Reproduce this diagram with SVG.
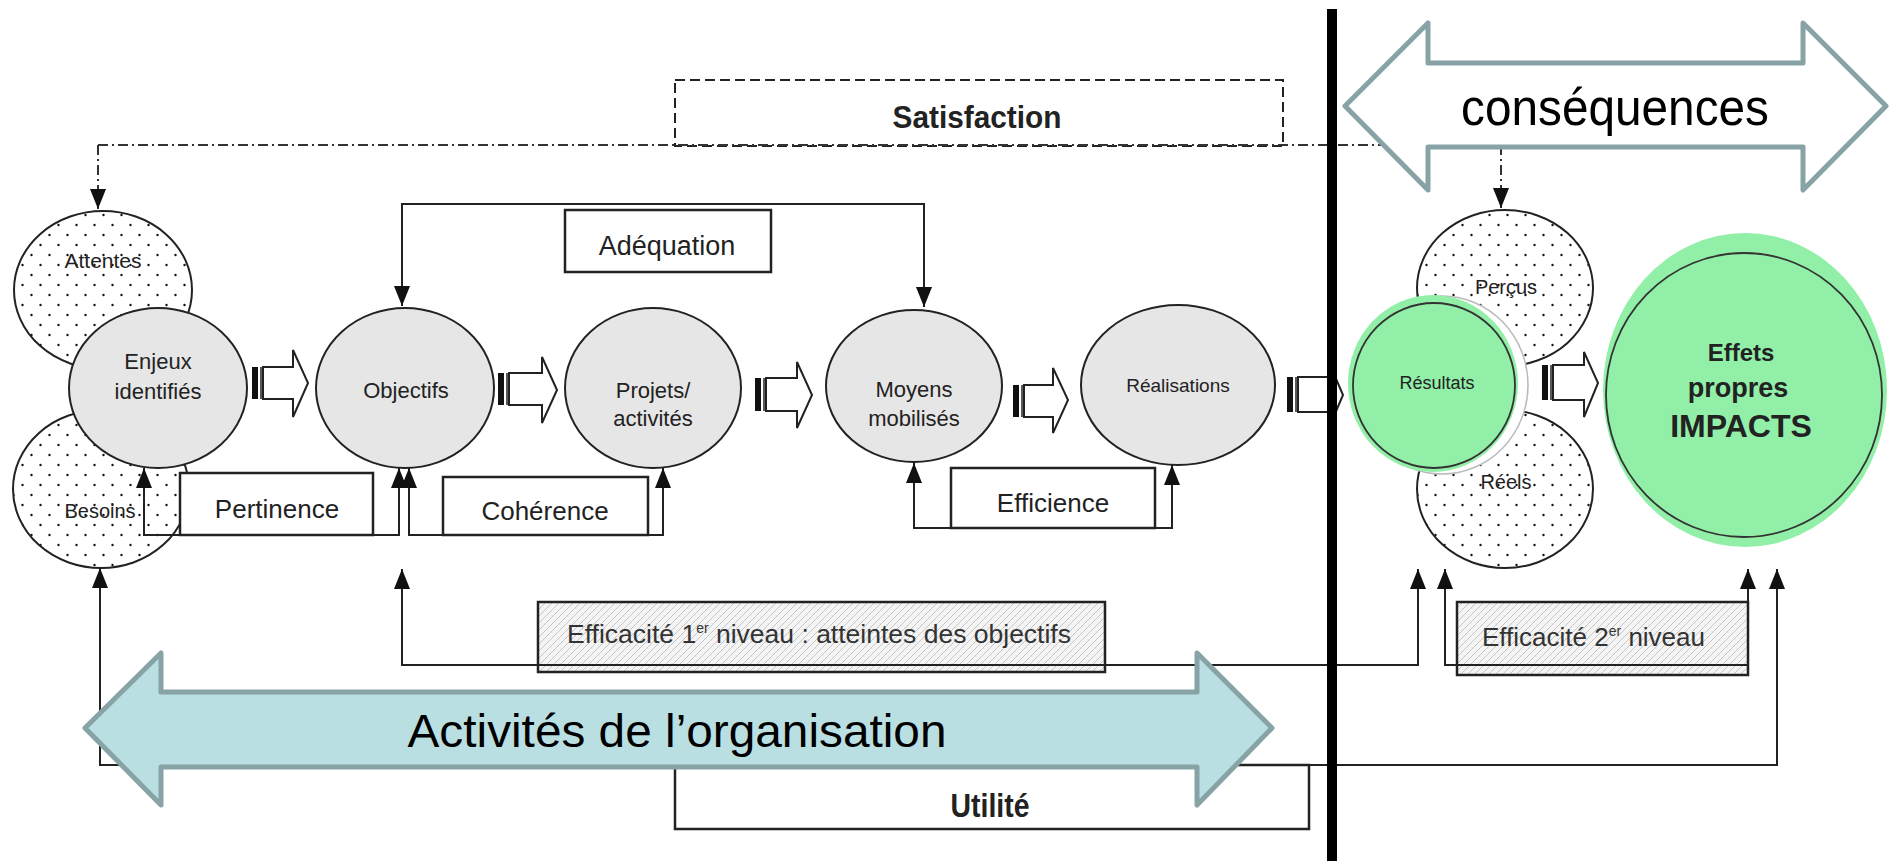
<svg xmlns="http://www.w3.org/2000/svg" width="1889" height="861" viewBox="0 0 1889 861">
<defs>
<style>
.t{font-family:"Liberation Sans",Arial,sans-serif;fill:#222;text-anchor:middle}
.tl{font-family:"Liberation Sans",Arial,sans-serif;fill:#333}
.b{font-weight:bold}
.node{fill:#e6e6e6;stroke:#222;stroke-width:2}
.dot{fill:url(#dots);stroke:#222;stroke-width:2}
.green{fill:#91efa7}
.ring{fill:none;stroke:#333;stroke-width:1.8}
.box{fill:#fff;stroke:#222;stroke-width:2.5}
.hbox{fill:url(#hatch);stroke:#222;stroke-width:2.5}
.conn{fill:none;stroke:#222;stroke-width:2;marker-end:url(#ah);marker-start:url(#ah)}
.dd{fill:none;stroke:#333;stroke-width:2;stroke-dasharray:10 4 2 4}
.dda{marker-end:url(#ah)}
.ba{fill:#fff;stroke:#222;stroke-width:2}
.tail{fill:#111}
.big{stroke:#87a3a6;stroke-width:5;stroke-linejoin:round}
</style>
<pattern id="dots" patternUnits="userSpaceOnUse" width="18" height="20">
<rect width="18" height="20" fill="#fff"/>
<circle cx="4.5" cy="5" r="1.2" fill="#111"/>
<circle cx="13.5" cy="15" r="1.2" fill="#111"/>
</pattern>
<pattern id="hatch" patternUnits="userSpaceOnUse" width="7" height="7">
<rect width="7" height="7" fill="#f4f4f4"/>
<path d="M0,7 L7,0 M-1,1 L1,-1 M6,8 L8,6" stroke="#c6c6c6" stroke-width="1"/>
</pattern>
<marker id="ah" viewBox="0 0 20 16" refX="20" refY="8" markerWidth="20" markerHeight="16" markerUnits="userSpaceOnUse" orient="auto-start-reverse">
<path d="M0,0 L20,8 L0,16 Z" fill="#111"/>
</marker>
</defs>
<rect width="1889" height="861" fill="#fff"/>

<g id="satisfaction">
<rect x="675" y="80" width="608" height="66" fill="none" stroke="#222" stroke-width="2" stroke-dasharray="10 5"/>
<text class="t b" x="977" y="128" font-size="32" textLength="169" lengthAdjust="spacingAndGlyphs">Satisfaction</text>
</g>

<g id="attentes">
<ellipse class="dot" cx="103" cy="290" rx="89" ry="79"/>
<text class="t" x="103" y="268" font-size="21">Attentes</text>
</g>
<g id="besoins">
<ellipse class="dot" cx="101" cy="489" rx="88" ry="79"/>
<text class="t" x="100" y="518" font-size="20">Besoins</text>
</g>
<g id="enjeux">
<ellipse class="node" cx="158" cy="388" rx="89" ry="80"/>
<text class="t" x="158" y="369" font-size="22">Enjeux</text>
<text class="t" x="158" y="399" font-size="22">identifiés</text>
</g>
<g id="objectifs">
<ellipse class="node" cx="405" cy="388" rx="89" ry="80"/>
<text class="t" x="406" y="398" font-size="22">Objectifs</text>
</g>
<g id="projets">
<ellipse class="node" cx="653" cy="388" rx="88" ry="80"/>
<text class="t" x="653" y="398" font-size="22">Projets/</text>
<text class="t" x="653" y="426" font-size="22">activités</text>
</g>
<g id="moyens">
<ellipse class="node" cx="914" cy="386" rx="88" ry="76"/>
<text class="t" x="914" y="397" font-size="22">Moyens</text>
<text class="t" x="914" y="426" font-size="22">mobilisés</text>
</g>
<g id="realisations">
<ellipse class="node" cx="1178" cy="385" rx="97" ry="80"/>
<text class="t" x="1178" y="392" font-size="19">Réalisations</text>
</g>

<g id="adequation">
<rect class="box" x="565" y="210" width="206" height="62"/>
<text class="t" x="667" y="255" font-size="27">Adéquation</text>
</g>
<g id="pertinence">
<rect class="box" x="180" y="473" width="193" height="62"/>
<text class="t" x="277" y="518" font-size="26">Pertinence</text>
</g>
<g id="coherence">
<rect class="box" x="443" y="477" width="205" height="58"/>
<text class="t" x="545" y="520" font-size="26">Cohérence</text>
</g>
<g id="efficience">
<rect class="box" x="951" y="468" width="204" height="60"/>
<text class="t" x="1053" y="512" font-size="26">Efficience</text>
</g>
<g id="efficacite1">
<rect class="hbox" x="538" y="602" width="567" height="70"/>
<text class="tl" x="567" y="643" font-size="26.5">Efficacité 1<tspan font-size="14" dy="-10">er</tspan><tspan dy="10"> niveau : atteintes des objectifs</tspan></text>
</g>
<g id="efficacite2">
<rect class="hbox" x="1457" y="602" width="291" height="73"/>
<text class="tl" x="1482" y="646" font-size="26">Efficacité 2<tspan font-size="14" dy="-10">er</tspan><tspan dy="10"> niveau</tspan></text>
</g>
<g id="utilite">
<rect class="box" x="675" y="765" width="634" height="64"/>
<text class="t b" x="990" y="817" font-size="34" textLength="79" lengthAdjust="spacingAndGlyphs">Utilité</text>
</g>

<g id="percus">
<ellipse class="dot" cx="1505" cy="288" rx="88" ry="78"/>
<text class="t" x="1506" y="294" font-size="20">Perçus</text>
</g>
<g id="reels">
<ellipse class="dot" cx="1505" cy="489" rx="88" ry="79"/>
<text class="t" x="1506" y="489" font-size="20">Réels</text>
</g>
<g id="resultats">
<ellipse cx="1442" cy="385" rx="86" ry="89" fill="#fff" stroke="#bbb" stroke-width="1.5"/>
<ellipse class="green" cx="1433" cy="383.5" rx="85" ry="88.5"/>
<ellipse class="ring" cx="1434" cy="385.5" rx="81" ry="82.5"/>
<text class="t" x="1437" y="389" font-size="18">Résultats</text>
</g>
<g id="effets">
<ellipse class="green" cx="1745" cy="390" rx="142" ry="157"/>
<ellipse class="ring" cx="1744" cy="395" rx="138" ry="142"/>
<text class="t b" x="1741" y="361" font-size="24">Effets</text>
<text class="t b" x="1738" y="397" font-size="27">propres</text>
<text class="t b" x="1741" y="437" font-size="32">IMPACTS</text>
</g>

<g id="block-arrows">
<rect class="tail" x="252" y="367" width="6" height="32"/><path d="M261,367 V399" stroke="#222" stroke-width="1.5"/>
<path class="ba" d="M263,367 H293 V350 L308,383 L293,417 V399 H263 Z"/>
<rect class="tail" x="498" y="373" width="6" height="32"/><path d="M507,373 V405" stroke="#222" stroke-width="1.5"/>
<path class="ba" d="M509,373 H542 V357 L557,390 L542,423 V405 H509 Z"/>
<rect class="tail" x="755" y="378" width="6" height="33"/><path d="M764,378 V411" stroke="#222" stroke-width="1.5"/>
<path class="ba" d="M766,378 H797 V362 L812,395 L797,428 V411 H766 Z"/>
<rect class="tail" x="1013" y="385" width="6" height="32"/><path d="M1022,385 V417" stroke="#222" stroke-width="1.5"/>
<path class="ba" d="M1024,385 H1053 V368 L1068,400 L1053,433 V417 H1024 Z"/>
<rect class="tail" x="1287" y="377" width="6" height="35"/><path d="M1296,377 V412" stroke="#222" stroke-width="1.5"/>
<path class="ba" d="M1298,377 H1328 V360 L1343,395 L1328,430 V412 H1298 Z"/>
<rect class="tail" x="1542" y="365" width="6" height="35"/><path d="M1551,365 V400" stroke="#222" stroke-width="1.5"/>
<path class="ba" d="M1553,365 H1584 V352 L1598,383 L1584,417 V400 H1553 Z"/>
</g>

<g id="connectors">
<path class="dd" d="M98,145 H1501"/>
<path class="dd dda" d="M98,145 V209"/>
<path class="dd dda" d="M1501,145 V208"/>
<path class="conn" d="M402,306 V204 H924 V307"/>
<path class="conn" d="M144,468 V535 H399 V468"/>
<path class="conn" d="M409,468 V535 H663 V468"/>
<path class="conn" d="M914,463 V528 H1172 V465"/>
<path class="conn" d="M402,569 V665 H1418 V569"/>
<path class="conn" d="M1445,569 V665 H1748 V569"/>
<path class="conn" d="M100,568 V765 H1777 V569"/>
</g>

<g id="activites">
<polygon class="big" fill="#b9dfe3" points="85,728 161,653 161,692 1197,692 1197,653 1272,728 1197,805 1197,767 161,767 161,805"/>
<text class="t" x="677" y="747" font-size="47" style="fill:#000" textLength="539" lengthAdjust="spacingAndGlyphs">Activités de l’organisation</text>
</g>

<rect id="separateur" x="1327" y="9" width="10" height="852" fill="#000"/>

<g id="consequences">
<polygon class="big" fill="#fff" points="1345,106 1428,23 1428,63 1803,63 1803,23 1886,106 1803,190 1803,147 1428,147 1428,190"/>
<text class="t" x="1615" y="125" font-size="52" style="fill:#000" textLength="308" lengthAdjust="spacingAndGlyphs">conséquences</text>
</g>
</svg>
